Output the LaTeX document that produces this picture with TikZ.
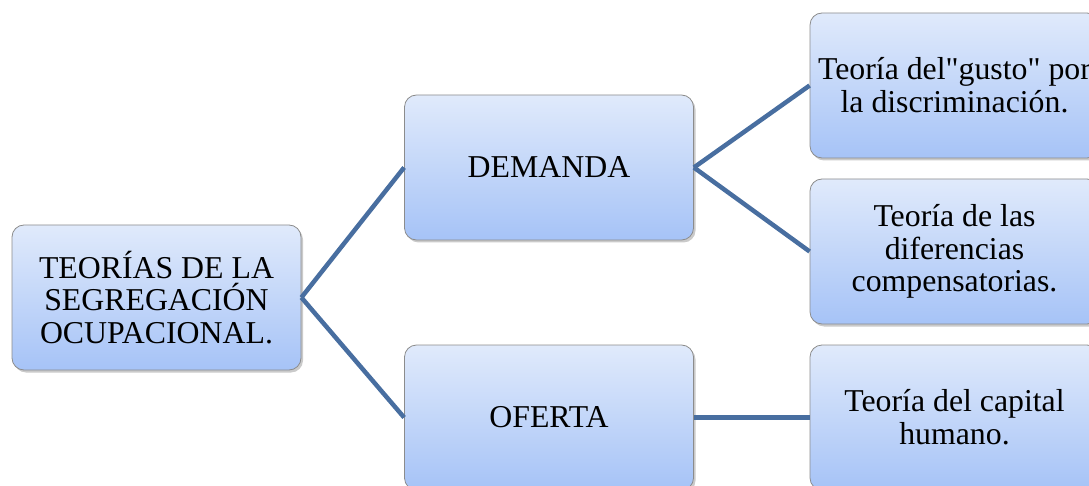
\documentclass[tikz,border=0pt]{standalone}
\usepackage{fontspec}
\setmainfont{Liberation Serif}[Ligatures=TeXOff]
\usetikzlibrary{shadows}
\definecolor{boxtop}{RGB}{224,234,251}
\definecolor{boxbot}{RGB}{166,195,247}
\definecolor{boxline}{RGB}{140,140,140}
\definecolor{conn}{RGB}{72,110,160}
\tikzset{
  box/.style={rounded corners=12pt, draw=boxline, line width=0.8pt,
    top color=boxtop, bottom color=boxbot,
    minimum width=289pt, minimum height=145pt, inner sep=0pt,
    align=center, font=\fontsize{31.8}{32.8}\selectfont,
    drop shadow={shadow xshift=2pt, shadow yshift=-2.5pt, opacity=0.35, fill=black!60}},
  conline/.style={draw=conn, line width=4.5pt}
}
\begin{document}
\begin{tikzpicture}
\path[use as bounding box] (0,0) rectangle (1089pt,-486pt);
\clip (0,0) rectangle (1089pt,-486pt);
\node[box] (root) at (156.5pt,-297.5pt) {TEORÍAS DE LA\\SEGREGACIÓN\\OCUPACIONAL.};
\node[box] (dem) at (549pt,-167.5pt) {DEMANDA};
\node[box] (ofe) at (549pt,-417.5pt) {OFERTA};
\node[box] (r1) at (954.5pt,-85.5pt) {Teoría del"gusto" por\\la discriminación.};
\node[box] (r2) at (954.5pt,-251.5pt) {Teoría de las\\diferencias\\compensatorias.};
\node[box] (r3) at (954.5pt,-417.5pt) {Teoría del capital\\humano.};
\draw[conline] (root.east) -- (dem.west);
\draw[conline] (root.east) -- (ofe.west);
\draw[conline] (dem.east) -- (r1.west);
\draw[conline] (dem.east) -- (r2.west);
\draw[conline] (ofe.east) -- (r3.west);
\end{tikzpicture}
\end{document}
